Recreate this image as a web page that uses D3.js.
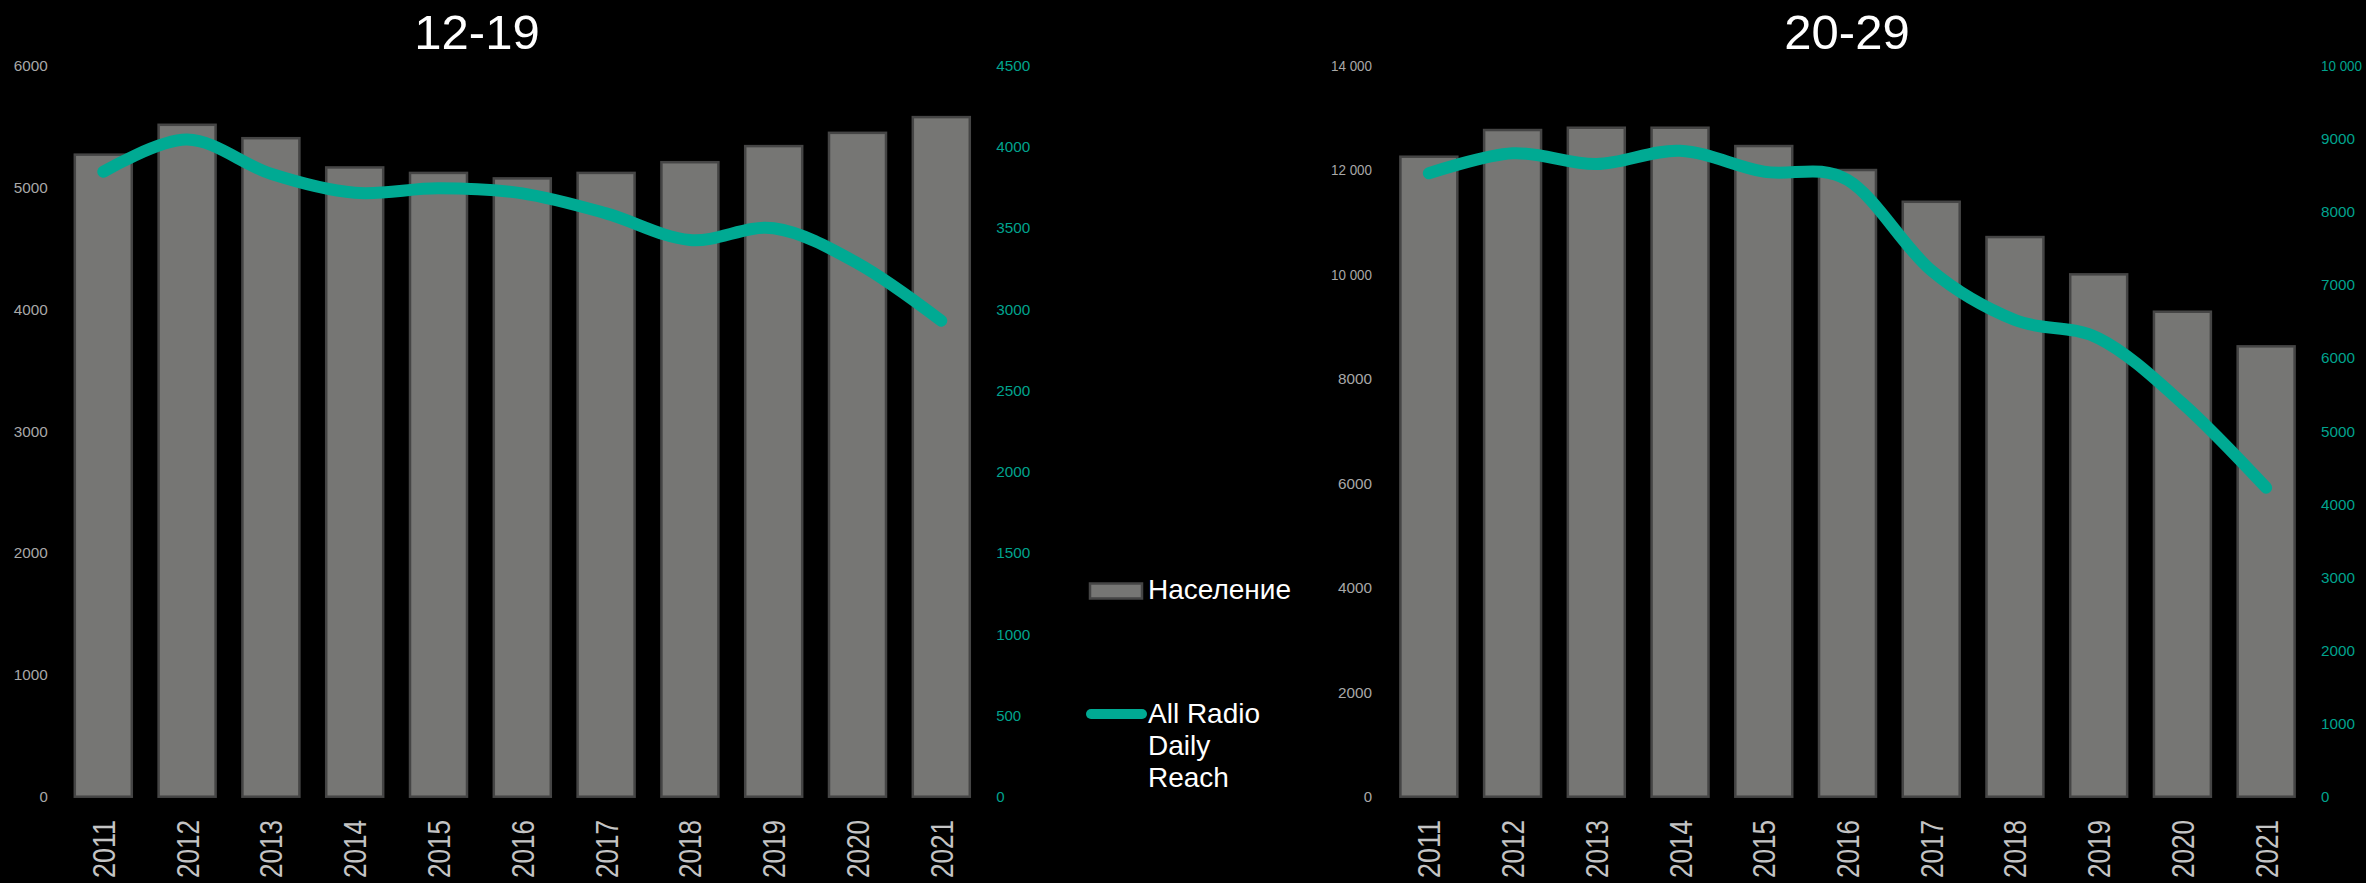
<!DOCTYPE html>
<html>
<head>
<meta charset="utf-8">
<script src="https://cdn.jsdelivr.net/npm/d3@7"></script>
<style>
  html, body { margin: 0; padding: 0; background: #000; }
  svg { display: block; }
  text { font-family: "Liberation Sans", Arial, sans-serif; }
</style>
</head>
<body>
<svg id="chart" width="2366" height="883"></svg>
<script>
// Years shown on both panels
const years = ["2011", "2012", "2013", "2014", "2015", "2016", "2017", "2018", "2019", "2020", "2021"];

// Age group 12-19
const pop1219 = [5270, 5515, 5405, 5165, 5120, 5075, 5120, 5208, 5340, 5449, 5578];
const reach1219 = [3847, 4045, 3835, 3718, 3745, 3714, 3591, 3427, 3499, 3284, 2930];
const popTicks1219 = [0, 1000, 2000, 3000, 4000, 5000, 6000];
const reachTicks1219 = [0, 500, 1000, 1500, 2000, 2500, 3000, 3500, 4000, 4500];

// Age group 20-29
const pop2029 = [12257, 12768, 12812, 12812, 12461, 12002, 11394, 10718, 10004, 9288, 8625];
const reach2029 = [8528, 8802, 8655, 8837, 8550, 8437, 7200, 6521, 6271, 5382, 4227];
const popTicks2029 = [0, 2000, 4000, 6000, 8000, 10000, 12000, 14000];
const reachTicks2029 = [0, 1000, 2000, 3000, 4000, 5000, 6000, 7000, 8000, 9000, 10000];

const titles = ["12-19", "20-29"];
const legendLabels = ["Население", "All Radio Daily Reach"];

const BAR_FILL = "#767674";
const BAR_STROKE = "#454545";
const TEAL = "#00AA93";
const TEAL_TEXT = "#00A38E";
const GREY_TEXT = "#a8a8a8";

// Russian-style numbers: no grouping for four digits, space for five and more
const fmtRu = v => {
  const s = String(v);
  return s.length > 4 ? s.replace(/\B(?=(\d{3})+(?!\d))/g, "\u00a0") : s;
};

// compact widths for the small axis numbers
const tickWidth = s => ({ 3: 25, 4: 34, 6: 41 })[s.length] || null;

function styleTicks(sel, colour) {
  sel.selectAll("text")
    .attr("fill", colour)
    .style("font-size", "15px")
    .each(function () {
      const w = tickWidth(this.textContent);
      if (w) d3.select(this).attr("textLength", w).attr("lengthAdjust", "spacingAndGlyphs");
    });
}

const svg = d3.select("#chart");
const plotTop = 65.7, plotBottom = 796.7;

function panel(cfg) {
  const g = svg.append("g");
  const x = d3.scaleBand().domain(years).range([cfg.x0, cfg.x1])
    .paddingInner(0.32).paddingOuter(0.16);
  const yL = d3.scaleLinear().domain([0, d3.max(cfg.popTicks)]).range([plotBottom, plotTop]);
  const yR = d3.scaleLinear().domain([0, d3.max(cfg.reachTicks)]).range([plotBottom, plotTop]);

  // left value axis
  const axL = g.append("g").attr("transform", `translate(${cfg.x0},0)`)
    .call(d3.axisLeft(yL).tickValues(cfg.popTicks).tickSize(0).tickPadding(cfg.padL).tickFormat(fmtRu));
  axL.select(".domain").remove();
  styleTicks(axL, GREY_TEXT);

  // right value axis
  const axR = g.append("g").attr("transform", `translate(${cfg.x1},0)`)
    .call(d3.axisRight(yR).tickValues(cfg.reachTicks).tickSize(0).tickPadding(cfg.padR).tickFormat(fmtRu));
  axR.select(".domain").remove();
  styleTicks(axR, TEAL_TEXT);

  // population bars
  g.append("g").selectAll("rect").data(cfg.pop).join("rect")
    .attr("x", (d, i) => x(years[i]))
    .attr("y", d => yL(d))
    .attr("width", x.bandwidth())
    .attr("height", d => yL(0) - yL(d))
    .attr("fill", BAR_FILL)
    .attr("stroke", BAR_STROKE)
    .attr("stroke-width", 2.5);

  // smoothed reach line
  const line = d3.line()
    .x((d, i) => x(years[i]) + x.bandwidth() / 2)
    .y(d => yR(d))
    .curve(d3.curveCatmullRom.alpha(0));
  g.append("path").datum(cfg.reach)
    .attr("d", line)
    .attr("fill", "none")
    .attr("stroke", TEAL)
    .attr("stroke-width", 12)
    .attr("stroke-linecap", "round")
    .attr("stroke-linejoin", "round");

  // category labels, rotated and slightly condensed to fit under the plot
  g.append("g").selectAll("text").data(years).join("text")
    .attr("transform", d => `translate(${x(d) + x.bandwidth() / 2},820) rotate(-90)`)
    .attr("text-anchor", "end")
    .attr("dy", "0.36em")
    .attr("textLength", 58)
    .attr("lengthAdjust", "spacingAndGlyphs")
    .attr("fill", "#c4c4c4")
    .style("font-size", "32px")
    .text(d => d);

  // panel title
  g.append("text")
    .attr("x", cfg.titleX).attr("y", 49)
    .attr("text-anchor", "middle")
    .attr("fill", "#ffffff")
    .style("font-size", "49px")
    .text(cfg.title);
}

panel({ x0: 61.4, x1: 983.2, padL: 13.6, padR: 13, pop: pop1219, reach: reach1219,
        popTicks: popTicks1219, reachTicks: reachTicks1219, title: titles[0], titleX: 477 });
panel({ x0: 1387, x1: 2308, padL: 15, padR: 13, pop: pop2029, reach: reach2029,
        popTicks: popTicks2029, reachTicks: reachTicks2029, title: titles[1], titleX: 1847 });

// legend
const lg = svg.append("g");
lg.append("rect").attr("x", 1090).attr("y", 583.5).attr("width", 52).attr("height", 15)
  .attr("fill", BAR_FILL).attr("stroke", BAR_STROKE).attr("stroke-width", 2.5);
lg.append("text").attr("x", 1148).attr("y", 599).attr("fill", "#fff")
  .style("font-size", "28px").text(legendLabels[0]);
lg.append("line").attr("x1", 1091).attr("x2", 1142).attr("y1", 714).attr("y2", 714)
  .attr("stroke", TEAL).attr("stroke-width", 10).attr("stroke-linecap", "round");
const words = ["All Radio", "Daily", "Reach"];
lg.append("text").attr("x", 1148).attr("y", 723).attr("fill", "#fff")
  .style("font-size", "28px")
  .selectAll("tspan").data(words).join("tspan")
  .attr("x", 1148).attr("dy", (d, i) => i === 0 ? 0 : 32)
  .text(d => d);
</script>
</body>
</html>
